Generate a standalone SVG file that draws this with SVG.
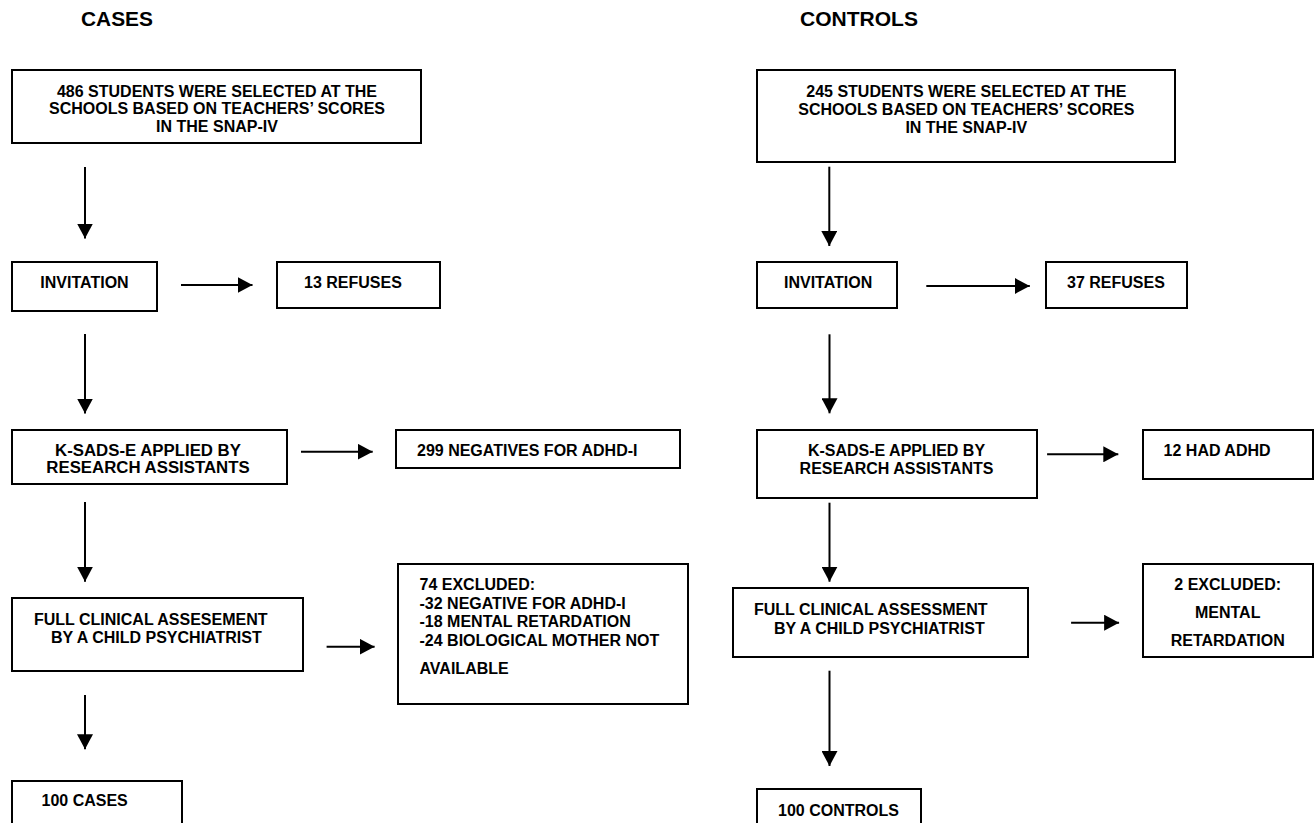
<svg xmlns="http://www.w3.org/2000/svg" width="1314" height="823" viewBox="0 0 1314 823">
<style>
  .box{fill:#fff;stroke:#000;stroke-width:2}
  text{font-family:"Liberation Sans",Arial,sans-serif;font-weight:bold;font-size:16px;fill:#000}
  .h{font-size:19.5px}
  .m{text-anchor:middle}
  .c line{stroke:#000;stroke-width:2;marker-end:url(#ah)}
</style>
<defs>
  <marker id="ah" markerUnits="userSpaceOnUse" markerWidth="16" markerHeight="16" refX="15" refY="8" orient="auto">
    <path d="M0,0 L15,8 L0,16 z" fill="#000"/>
  </marker>
</defs>
<rect width="1314" height="823" fill="#fff"/>
<text id="h-cases" class="h" x="81" y="26" textLength="72" lengthAdjust="spacingAndGlyphs">CASES</text>
<text id="h-controls" class="h" x="800" y="26" textLength="118" lengthAdjust="spacingAndGlyphs">CONTROLS</text>

<g id="ca-selected"><rect class="box" x="12" y="70" width="409" height="73"/>
<text class="m" x="217" y="97">486 STUDENTS WERE SELECTED AT THE</text>
<text class="m" x="217" y="114">SCHOOLS BASED ON TEACHERS’ SCORES</text>
<text class="m" x="217" y="131.5">IN THE SNAP-IV</text></g>
<g id="ca-invitation"><rect class="box" x="12" y="262" width="145" height="49"/>
<text class="m" x="84.5" y="288">INVITATION</text></g>
<g id="ca-refuses"><rect class="box" x="277" y="262" width="163" height="46"/>
<text x="304" y="288">13 REFUSES</text></g>
<g id="ca-ksads"><rect class="box" x="12" y="430" width="275" height="54"/>
<text class="m" x="148" y="456" style="font-size:16.8px">K-SADS-E APPLIED BY</text>
<text class="m" x="148" y="472.5" style="font-size:16.8px">RESEARCH ASSISTANTS</text></g>
<g id="ca-negatives"><rect class="box" x="396" y="430" width="284" height="38"/>
<text x="417" y="456">299 NEGATIVES FOR ADHD-I</text></g>
<g id="ca-full"><rect class="box" x="12" y="598" width="291" height="73"/>
<text x="34" y="624.5">FULL CLINICAL ASSESEMENT</text>
<text x="51" y="643">BY A CHILD PSYCHIATRIST</text></g>
<g id="ca-excluded"><rect class="box" x="398" y="564" width="290" height="140"/>
<text x="419.5" y="590">74 EXCLUDED:</text>
<text x="419.5" y="608.5">-32 NEGATIVE FOR ADHD-I</text>
<text x="419.5" y="627">-18 MENTAL RETARDATION</text>
<text x="419.5" y="645.5">-24 BIOLOGICAL MOTHER NOT</text>
<text x="419.5" y="673.5">AVAILABLE</text></g>
<g id="ca-final"><rect class="box" x="12" y="781" width="170" height="60"/>
<text x="41.5" y="806">100 CASES</text></g>

<g id="co-selected"><rect class="box" x="757" y="70" width="418" height="92"/>
<text class="m" x="966.3" y="97">245 STUDENTS WERE SELECTED AT THE</text>
<text class="m" x="966.3" y="114.5">SCHOOLS BASED ON TEACHERS’ SCORES</text>
<text class="m" x="966.3" y="132.5">IN THE SNAP-IV</text></g>
<g id="co-invitation"><rect class="box" x="757" y="262" width="140" height="46"/>
<text x="784" y="288.3">INVITATION</text></g>
<g id="co-refuses"><rect class="box" x="1046" y="262" width="141" height="46"/>
<text x="1067" y="288">37 REFUSES</text></g>
<g id="co-ksads"><rect class="box" x="757" y="430" width="280" height="68"/>
<text class="m" x="896.5" y="456">K-SADS-E APPLIED BY</text>
<text class="m" x="896.5" y="474">RESEARCH ASSISTANTS</text></g>
<g id="co-adhd"><rect class="box" x="1143" y="430" width="170" height="49"/>
<text x="1163.6" y="456">12 HAD ADHD</text></g>
<g id="co-full"><rect class="box" x="733" y="588" width="295" height="69"/>
<text x="754" y="614.5">FULL CLINICAL ASSESSMENT</text>
<text x="774" y="633.5">BY A CHILD PSYCHIATRIST</text></g>
<g id="co-excluded"><rect class="box" x="1143" y="564" width="170" height="93"/>
<text class="m" x="1227.7" y="590">2 EXCLUDED:</text>
<text class="m" x="1227.7" y="618">MENTAL</text>
<text class="m" x="1227.7" y="646">RETARDATION</text></g>
<g id="co-final"><rect class="box" x="757" y="789" width="164" height="60"/>
<text x="778" y="816">100 CONTROLS</text></g>

<g id="connectors" class="c">
  <line x1="85" y1="167" x2="85" y2="238.5"/>
  <line x1="181" y1="285" x2="252.5" y2="285"/>
  <line x1="85" y1="334" x2="85" y2="413.5"/>
  <line x1="301" y1="451.7" x2="372.7" y2="451.7"/>
  <line x1="85" y1="502" x2="85" y2="581.7"/>
  <line x1="326.6" y1="646.7" x2="374.6" y2="646.7"/>
  <line x1="85" y1="695" x2="85" y2="749.3"/>
  <line x1="829.3" y1="166.7" x2="829.3" y2="246"/>
  <line x1="926.3" y1="286" x2="1029.8" y2="286"/>
  <line x1="829.5" y1="334.3" x2="829.5" y2="413.3"/>
  <line x1="1047.1" y1="454.3" x2="1118.3" y2="454.3"/>
  <line x1="829.5" y1="502.7" x2="829.5" y2="581.7"/>
  <line x1="1071.1" y1="622.7" x2="1119.1" y2="622.7"/>
  <line x1="829.5" y1="670.7" x2="829.5" y2="766"/>
</g>
</svg>
